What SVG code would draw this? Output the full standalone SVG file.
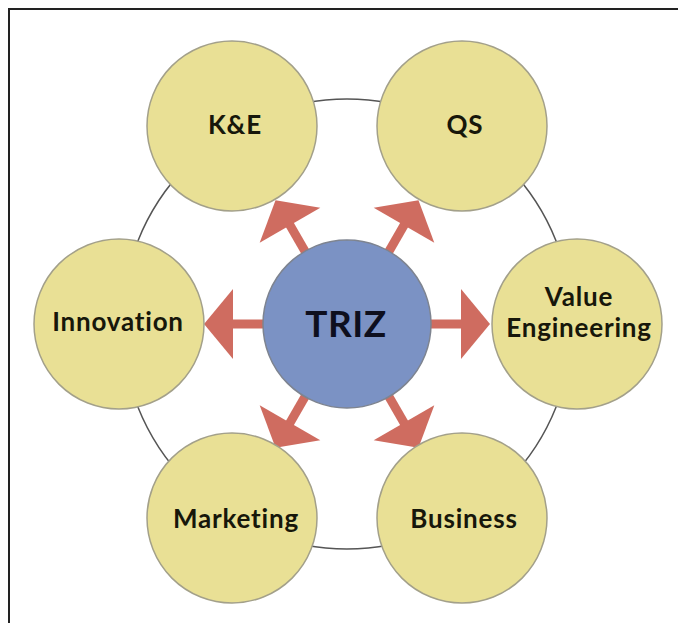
<svg xmlns="http://www.w3.org/2000/svg" width="678" height="623" viewBox="0 0 678 623">
<style>
.frame{stroke:#222;stroke-width:2;fill:none}
.ring{fill:none;stroke:#555;stroke-width:1.5}
.node{fill:#E9E095;stroke:#A3A08A;stroke-width:1.5}
.core{fill:#7B92C4;stroke:#7E8490;stroke-width:1.5}
.lbl{font-family:Lato,"Liberation Sans",sans-serif;font-weight:700;font-size:26px;letter-spacing:0.8px;fill:#17170a;text-anchor:middle}
.big{font-family:Lato,"Liberation Sans",sans-serif;font-weight:700;font-size:37px;letter-spacing:0.5px;fill:#0e0f1e;text-anchor:middle}
.arr{fill:#CF6C60}
</style>
<defs>
<g id="arrow">
<rect x="82" y="-4.5" width="34" height="9"/>
<polygon points="114,-35 143,0 114,35"/>
</g>
</defs>
<path class="frame" d="M8,9 H678 M9,8 V623"/>
<circle class="ring" cx="347" cy="324" r="225"/>
<g id="connectors" class="arr">
<use href="#arrow" transform="translate(347,324)"/>
<use href="#arrow" transform="translate(347,324) rotate(-60)"/>
<use href="#arrow" transform="translate(347,324) rotate(-120)"/>
<use href="#arrow" transform="translate(347,324) rotate(180)"/>
<use href="#arrow" transform="translate(347,324) rotate(120)"/>
<use href="#arrow" transform="translate(347,324) rotate(60)"/>
</g>
<g id="triz"><circle class="core" cx="347" cy="324" r="84"/><text class="big" x="346" y="337">TRIZ</text></g>
<g id="ke"><circle class="node" cx="232" cy="126" r="85"/><text class="lbl" x="235" y="134">K&amp;E</text></g>
<g id="qs"><circle class="node" cx="462" cy="126" r="85"/><text class="lbl" x="465" y="134">QS</text></g>
<g id="innovation"><circle class="node" cx="119" cy="324" r="85"/><text class="lbl" x="118" y="331">Innovation</text></g>
<g id="ve"><circle class="node" cx="577" cy="324" r="85"/><text class="lbl" x="579" y="306">Value</text><text class="lbl" x="579" y="337">Engineering</text></g>
<g id="marketing"><circle class="node" cx="232" cy="518" r="85"/><text class="lbl" x="236" y="528">Marketing</text></g>
<g id="business"><circle class="node" cx="462" cy="518" r="85"/><text class="lbl" x="464" y="528">Business</text></g>
</svg>
